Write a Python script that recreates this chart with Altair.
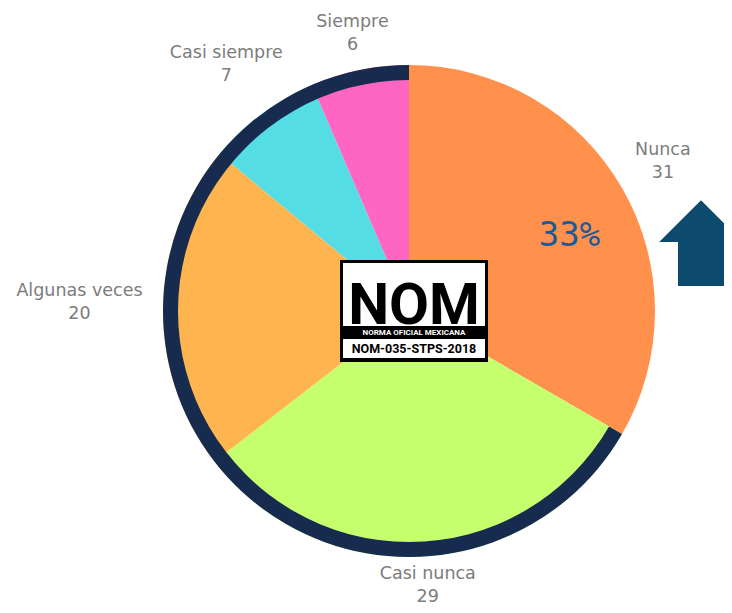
import altair as alt
import pandas as pd

categories = ["Nunca", "Casi nunca", "Algunas veces", "Casi siempre", "Siempre"]
values = [31, 29, 20, 7, 6]
colors = ["#FF914D", "#C6FF6E", "#FFB54F", "#55DDE6", "#FF66C4"]
order = [0, 1, 2, 3, 4]

df = pd.DataFrame({"category": categories, "value": values, "idx": order})

CX, CY = 401, 303
R_OUT = 246
R_RING_IN = 231
NAVY = "#172B4F"

base = (
    alt.Chart(df)
    .transform_joinaggregate(total="sum(value)")
    .transform_window(cum="sum(value)", sort=[{"field": "idx"}], frame=[None, 0])
    .transform_calculate(
        t0="2*PI*(datum.cum - datum.value)/datum.total",
        t1="2*PI*datum.cum/datum.total",
    )
    .transform_calculate(mid="(datum.t0 + datum.t1)/2")
)

pie = base.mark_arc(x=CX, y=CY, radius=R_OUT).encode(
    theta=alt.Theta("t0:Q", scale=None),
    theta2="t1:Q",
    color=alt.Color("category:N", scale=alt.Scale(domain=categories, range=colors), legend=None),
)

ring = (
    base.transform_filter("datum.category != 'Nunca'")
    .transform_aggregate(a0="min(t0)", a1="max(t1)")
    .mark_arc(x=CX, y=CY, radius=R_OUT, radius2=R_RING_IN, color=NAVY)
    .encode(theta=alt.Theta("a0:Q", scale=None), theta2="a1:Q")
)

labels = (
    base.transform_calculate(
        r="275 + length(datum.category)*4.2*abs(sin(datum.mid))",
        label="datum.category + '\\n' + datum.value",
    )
    .mark_text(
        x=CX, y=CY, dy=-14, lineBreak="\n", lineHeight=23, font="DejaVu Sans",
        fontSize=17.5, color="#7C7C7C", align="center", baseline="middle",
    )
    .encode(
        theta=alt.Theta("mid:Q", scale=None),
        radius=alt.Radius("r:Q", scale=None),
        text="label:N",
    )
)

pct = (
    base.transform_filter("datum.category == 'Nunca'")
    .transform_calculate(p="format(datum.value/datum.total, '.0%')")
    .mark_text(
        x=CX, y=CY, font="DejaVu Sans Mono", fontSize=34, color="#1D5A99",
        align="center", baseline="middle", dx=9, dy=12,
    )
    .encode(
        theta=alt.Theta("mid:Q", scale=None),
        radius=alt.value(175),
        text="p:N",
    )
)

one = pd.DataFrame({"k": [0]})


def box(x1, x2, y1, y2, color):
    return alt.Chart(one).mark_rect(color=color).encode(
        x=alt.value(x1), x2=alt.value(x2), y=alt.value(y1), y2=alt.value(y2)
    )


def txt(s, x, y, size, color, font, weight="normal", baseline="middle"):
    return alt.Chart(one).mark_text(
        text=s, fontSize=size, color=color, font=font, fontWeight=weight,
        align="center", baseline=baseline,
    ).encode(x=alt.value(x), y=alt.value(y))


logo = alt.layer(
    box(332, 480, 252, 354, "#000000"),
    box(335, 477, 255, 318, "#FFFFFF"),
    box(335, 477, 331, 350, "#FFFFFF"),
    txt("NOM", 406, 316, 58, "#000000", "Roboto", "bold", "alphabetic"),
    txt("NORMA OFICIAL MEXICANA", 406, 324.5, 8, "#FFFFFF", "Roboto", "bold"),
    txt("NOM-035-STPS-2018", 406, 341, 12.5, "#000000", "Roboto", "bold"),
)

arrow = alt.Chart(one).mark_point(
    filled=True, opacity=1, color="#0C4A6E", size=7000,
    shape="M0,-1L1,0L0.55,0L0.55,1.05L-0.55,1.05L-0.55,0L-1,0Z",
).encode(x=alt.value(693), y=alt.value(234))

chart = (
    alt.layer(pie, ring, labels, pct, logo, arrow)
    .properties(width=716, height=597, padding=0, autosize=alt.AutoSizeParams(type="none"),
                background="#FFFFFF")
    .configure_view(stroke=None)
)

chart.save("out.html", embed_options={"renderer": "svg", "actions": False})
